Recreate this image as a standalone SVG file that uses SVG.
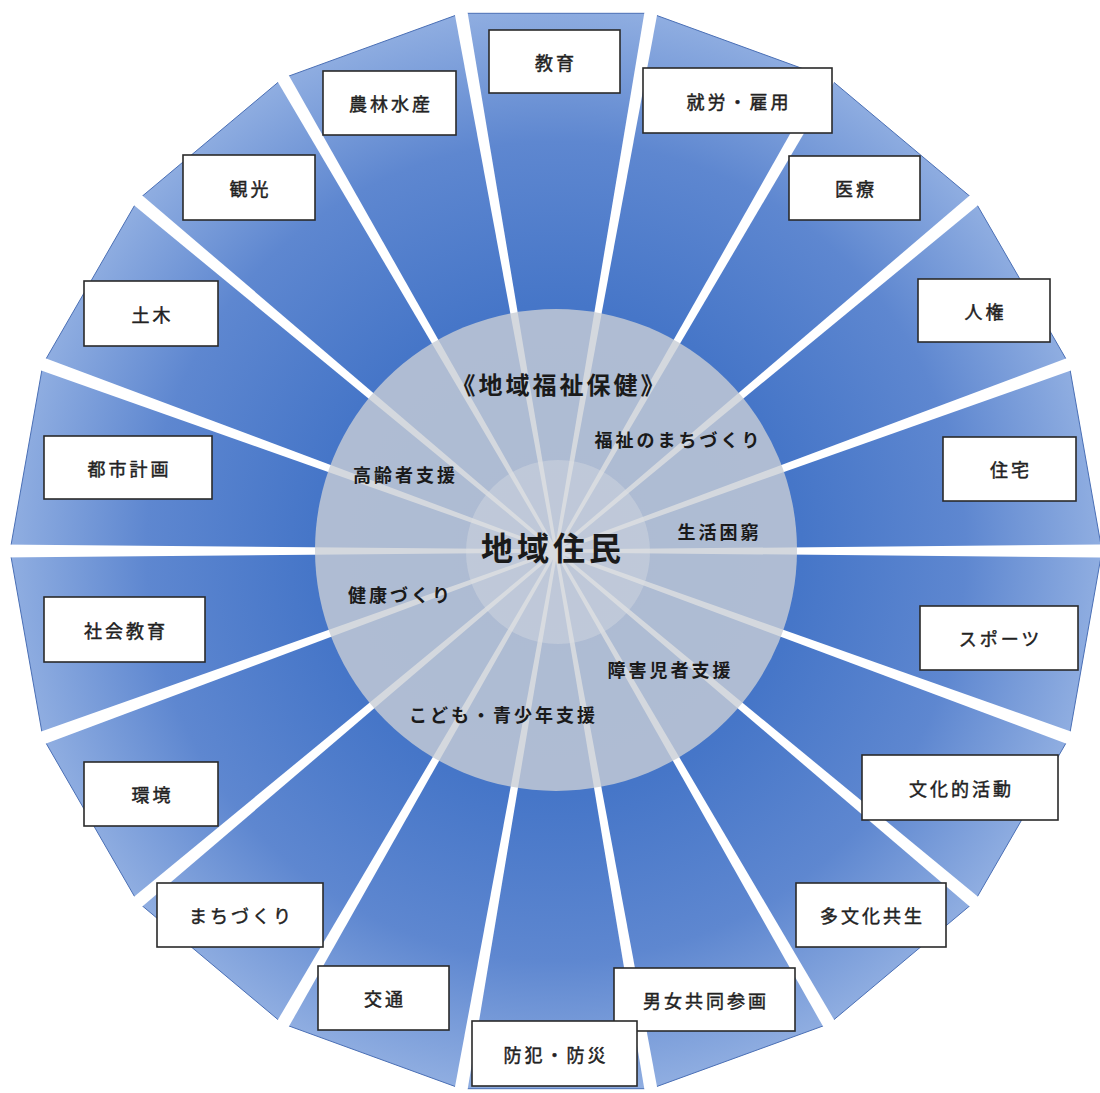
<svg xmlns="http://www.w3.org/2000/svg" xmlns:xlink="http://www.w3.org/1999/xlink" width="1100" height="1093" viewBox="0 0 1100 1093">
<style>
.box{fill:#ffffff;stroke:#2a2a2a;stroke-width:1.6}
.bt{font-family:"Noto Sans CJK JP","Noto Sans CJK SC",sans-serif;font-size:18px;letter-spacing:3px;fill:#222222;stroke:#222222;stroke-width:0.45px;text-anchor:middle}
.ct{font-family:"Noto Sans CJK JP","Noto Sans CJK SC",sans-serif;font-size:18px;font-weight:bold;letter-spacing:3px;fill:#1a1a1a;text-anchor:middle}
.gap{fill:#ffffff}
</style>
<defs>
<radialGradient id="blue" gradientUnits="userSpaceOnUse" cx="556" cy="551" r="546">
<stop offset="0" stop-color="#3f6fc4"/>
<stop offset="0.45" stop-color="#4676c8"/>
<stop offset="0.75" stop-color="#5e87d0"/>
<stop offset="1" stop-color="#90aee1"/>
</radialGradient>
<polygon id="g" points="0,-1.5 562,-6.6 562,6.6 0,1.5"/>
</defs>
<rect width="1100" height="1093" fill="#ffffff"/>
<g id="wheel">
<polygon points="1102,551 1069.1,364.3 974.3,200 829,78.2 650.8,13.3 461.2,13.3 283,78.2 137.7,200 42.9,364.3 10,551 42.9,737.7 137.7,902 283,1023.8 461.2,1088.7 650.8,1088.7 829,1023.8 974.3,902 1069.1,737.7" fill="url(#blue)" stroke="#4a6fb5" stroke-width="1"/>
</g>
<g id="spokes" class="gap">
<use xlink:href="#g" transform="translate(556,551) rotate(0)"/>
<use xlink:href="#g" transform="translate(556,551) rotate(-20)"/>
<use xlink:href="#g" transform="translate(556,551) rotate(-40)"/>
<use xlink:href="#g" transform="translate(556,551) rotate(-60)"/>
<use xlink:href="#g" transform="translate(556,551) rotate(-80)"/>
<use xlink:href="#g" transform="translate(556,551) rotate(-100)"/>
<use xlink:href="#g" transform="translate(556,551) rotate(-120)"/>
<use xlink:href="#g" transform="translate(556,551) rotate(-140)"/>
<use xlink:href="#g" transform="translate(556,551) rotate(-160)"/>
<use xlink:href="#g" transform="translate(556,551) rotate(-180)"/>
<use xlink:href="#g" transform="translate(556,551) rotate(-200)"/>
<use xlink:href="#g" transform="translate(556,551) rotate(-220)"/>
<use xlink:href="#g" transform="translate(556,551) rotate(-240)"/>
<use xlink:href="#g" transform="translate(556,551) rotate(-260)"/>
<use xlink:href="#g" transform="translate(556,551) rotate(-280)"/>
<use xlink:href="#g" transform="translate(556,551) rotate(-300)"/>
<use xlink:href="#g" transform="translate(556,551) rotate(-320)"/>
<use xlink:href="#g" transform="translate(556,551) rotate(-340)"/>
</g>
<g id="welfare-circle">
<circle cx="556" cy="550" r="241" fill="#c9ced6" fill-opacity="0.8"/>
<circle cx="558" cy="552" r="92" fill="#e0e2e6" fill-opacity="0.35"/>
<text class="ct" x="559.5" y="394" style="font-size:24px">《地域福祉保健》</text>
<text class="ct" x="678.5" y="447">福祉のまちづくり</text>
<text class="ct" x="405.5" y="482">高齢者支援</text>
<text class="ct" x="719.5" y="539">生活困窮</text>
<text class="ct" x="553" y="560" style="font-size:32px;letter-spacing:4px">地域住民</text>
<text class="ct" x="400.5" y="602">健康づくり</text>
<text class="ct" x="670.5" y="677">障害児者支援</text>
<text class="ct" x="503.5" y="722">こども・青少年支援</text>
</g>
<g id="n-kyoiku"><rect class="box" x="489" y="30" width="131" height="63"/><text class="bt" x="556" y="70">教育</text></g>
<g id="n-shuro"><rect class="box" x="643" y="68" width="189" height="65"/><text class="bt" x="739" y="109">就労・雇用</text></g>
<g id="n-iryo"><rect class="box" x="789" y="156" width="131" height="64"/><text class="bt" x="856" y="196">医療</text></g>
<g id="n-jinken"><rect class="box" x="918" y="279" width="132" height="63"/><text class="bt" x="985.5" y="319">人権</text></g>
<g id="n-jutaku"><rect class="box" x="943" y="437" width="133" height="64"/><text class="bt" x="1011" y="477">住宅</text></g>
<g id="n-sports"><rect class="box" x="920" y="606" width="158" height="64"/><text class="bt" x="1000.5" y="646">スポーツ</text></g>
<g id="n-bunka"><rect class="box" x="862" y="755" width="196" height="65"/><text class="bt" x="961.5" y="796">文化的活動</text></g>
<g id="n-tabunka"><rect class="box" x="796" y="883" width="150" height="64"/><text class="bt" x="872.5" y="923">多文化共生</text></g>
<g id="n-danjo"><rect class="box" x="614" y="968" width="181" height="63"/><text class="bt" x="706" y="1008">男女共同参画</text></g>
<g id="n-bohan"><rect class="box" x="472" y="1021" width="165" height="65"/><text class="bt" x="556" y="1062">防犯・防災</text></g>
<g id="n-kotsu"><rect class="box" x="318" y="966" width="131" height="64"/><text class="bt" x="385" y="1006">交通</text></g>
<g id="n-machi"><rect class="box" x="157" y="883" width="166" height="64"/><text class="bt" x="241.5" y="923">まちづくり</text></g>
<g id="n-kankyo"><rect class="box" x="84" y="762" width="134" height="64"/><text class="bt" x="152.5" y="802">環境</text></g>
<g id="n-shakai"><rect class="box" x="44" y="597" width="161" height="65"/><text class="bt" x="126" y="638">社会教育</text></g>
<g id="n-toshi"><rect class="box" x="44" y="436" width="168" height="63"/><text class="bt" x="129.5" y="476">都市計画</text></g>
<g id="n-doboku"><rect class="box" x="84" y="281" width="134" height="65"/><text class="bt" x="152.5" y="322">土木</text></g>
<g id="n-kanko"><rect class="box" x="183" y="155" width="132" height="65"/><text class="bt" x="250.5" y="196">観光</text></g>
<g id="n-norin"><rect class="box" x="323" y="71" width="133" height="64"/><text class="bt" x="391" y="111">農林水産</text></g>
</svg>
